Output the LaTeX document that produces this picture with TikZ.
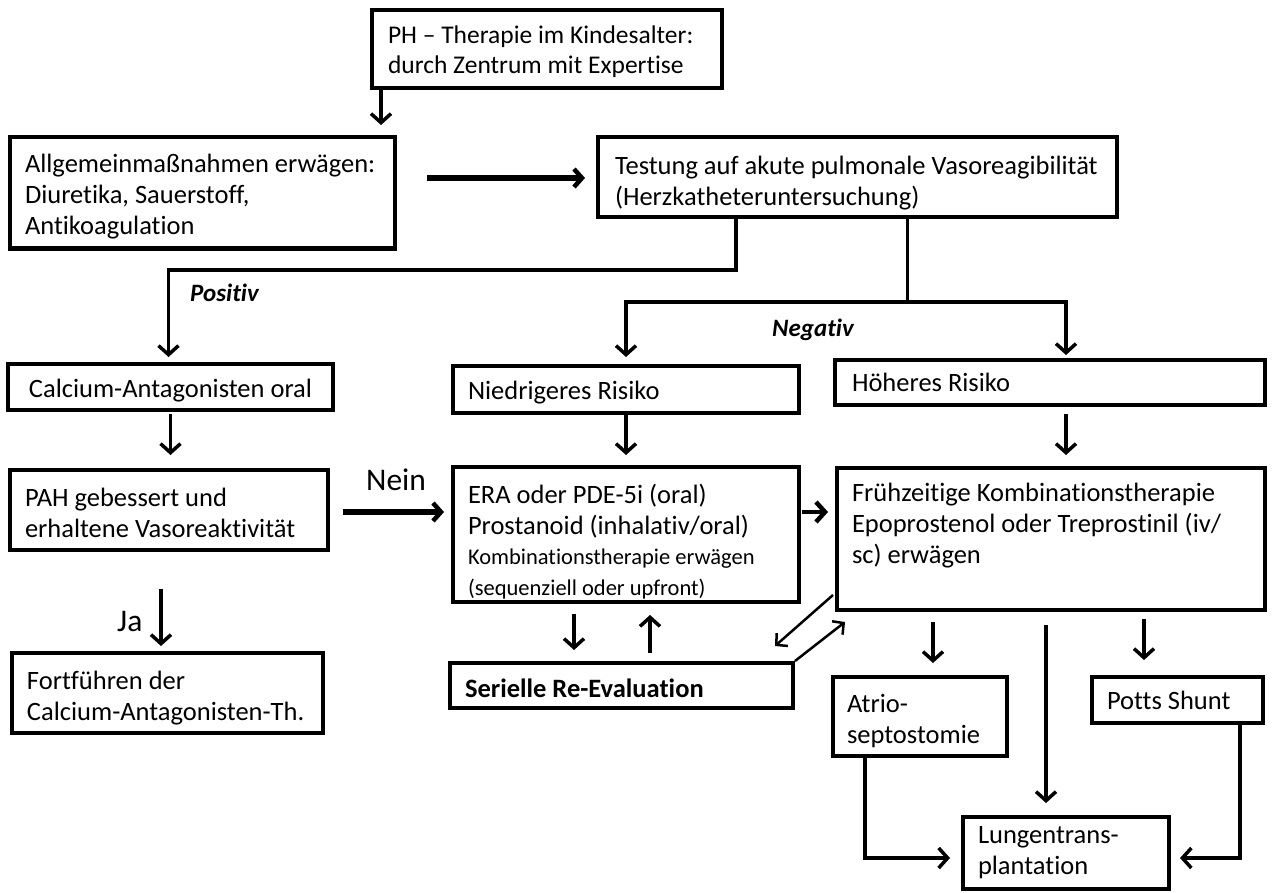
\documentclass[tikz,border=0pt]{standalone}
\usepackage{fontspec}
\setmainfont{Carlito}[Ligatures=NoCommon]
\usetikzlibrary{calc,arrows.meta}
\newcommand\dn[1]{\rule{0pt}{#1pt}}
\begin{document}
\begin{tikzpicture}[x=1pt,y=-1pt,
  box/.style={draw, line width=4pt, inner ysep=0pt, inner xsep=15pt, align=flush left,
    font=\fontsize{26.5}{31}\selectfont},
  lbl/.style={inner sep=0pt, anchor=base west},
  ln/.style={line width=3pt},
  arr/.style={line width=3.5pt, -{Straight Barb[length=9pt,width=20pt]}},
  tarr/.style={line width=6pt, -{Straight Barb[length=8pt,width=18pt,line width=4.5pt]}},
  darr/.style={line width=2.5pt, -{Straight Barb[length=8pt,width=17pt]}}
]
\useasboundingbox (0,0) rectangle (1273,893);

% boxes
\node[box, minimum width=350, minimum height=78, inner xsep=16pt, text width=318, font=\fontsize{25.5}{30}\selectfont] (top) at (547,49)
  {\dn{24}PH -- Therapie im Kindesalter:\\durch Zentrum mit Expertise};
\node[box, minimum width=385, minimum height=111, text width=355] (allg) at (202.5,193)
  {\dn{26}Allgemeinmaßnahmen erwägen:\\Diuretika, Sauerstoff,\\Antikoagulation};
\node[box, minimum width=519, minimum height=80, inner xsep=17pt, text width=485] (test) at (857.5,177)
  {\dn{30}Testung auf akute pulmonale Vasoreagibilität\\(Herzkatheteruntersuchung)};
\node[box, minimum width=325, minimum height=46, inner xsep=5pt, text width=315, align=flush center] (calc) at (170.5,387)
  {\dn{26}Calcium-Antagonisten oral};
\node[box, minimum width=346, minimum height=47, text width=316] (nied) at (626,389.5)
  {\dn{24}Niedrigeres Risiko};
\node[box, minimum width=430, minimum height=45, inner xsep=17pt, text width=396] (hoeh) at (1050,382.5)
  {Höheres Risiko};
\node[box, minimum width=318, minimum height=80, text width=288] (pah) at (169,510)
  {\dn{24}PAH gebessert und\\erhaltene Vasoreaktivität};
\node[box, minimum width=346, minimum height=135, text width=316] (era) at (626,534.5)
  {\dn{34}ERA oder PDE-5i (oral)\\Prostanoid (inhalativ/oral)\\[1pt]
   \fontsize{22.5}{29}\selectfont Kombinationstherapie erwägen\\(sequenziell oder upfront)};
\node[box, minimum width=428, minimum height=142, text width=398] (frueh) at (1051,539)
  {Frühzeitige Kombinationstherapie\\Epoprostenol oder Treprostinil (iv/\\sc) erwägen\\\mbox{}};
\node[box, minimum width=311, minimum height=80, text width=281] (fort) at (167.5,693)
  {\dn{28}Fortführen der\\Calcium-Antagonisten-Th.};
\node[box, minimum width=343, minimum height=45, text width=313, font=\fontsize{26.5}{31}\selectfont\bfseries] (seri) at (621.5,685.5)
  {\dn{24}Serielle Re-Evaluation};
\node[box, minimum width=174, minimum height=79, inner xsep=14pt, text width=146] (atrio) at (920,716.5)
  {\dn{28}Atrio-\\septostomie};
\node[box, minimum width=171, minimum height=46, text width=141] (potts) at (1177.5,700)
  {Potts Shunt};
\node[box, minimum width=206, minimum height=72, text width=176] (lungen) at (1066,853)
  {Lungentrans-\\plantation};

% labels
\node[lbl, font=\fontsize{25}{30}\selectfont\bfseries\itshape] (pos) at (190,301) {Positiv};
\node[lbl, font=\fontsize{25}{30}\selectfont\bfseries\itshape] (neg) at (772,336) {Negativ};
\node[lbl, font=\fontsize{31.5}{36}\selectfont] (nein) at (366,490) {Nein};
\node[lbl, font=\fontsize{31.5}{36}\selectfont] (ja) at (117,631) {Ja};

% connectors
\draw[arr] ($(top.south west)+(11,0)$) -- ($(top.south west)+(11,35)$);
\draw[tarr] ($(allg.east|-test.west)+(30,1)$) -- ($(test.west)+(-11,1)$);

\draw[arr] ($(test.south west)+(140,0)$) -- ++(0,51) -| ($(calc.north)+(-2,-5)$);
\coordinate (negc) at ($(test.south west)+(311,83)$);
\draw[ln] ($(test.south west)+(311,0)$) -- (negc);
\draw[arr] (negc) -| ($(nied.north)+(0,-7)$);
\draw[arr] (negc) -| ($(hoeh.north west)+(233,-3)$);

\draw[arr, shorten <=2pt, shorten >=13pt] (calc.south) -- (calc.south |- pah.north);
\draw[arr, shorten >=10pt] (nied.south) -- (era.north);
\draw[arr] ($(hoeh.south west)+(233,7)$) -- ($(frueh.north west)+(231,-11)$);

\draw[tarr] ($(pah.east)+(13,2)$) -- ($(pah.east -| era.west)+(-7,2)$);
\draw[arr, line width=4.5pt] ($(pah.east -| era.east)+(1,2)$) -- ($(pah.east -| frueh.west)+(-7,2)$);
\draw[arr] ($(pah.south west)+(153,37)$) -- ($(fort.north west)+(151,-5)$);

\draw[arr] ($(era.south west)+(123,10)$) -- ($(seri.north west)+(126,-11)$);
\draw[arr] ($(seri.north west)+(202,-8)$) -- ($(era.south west)+(199,11)$);
\draw[darr] ($(frueh.south west)+(-2,-17)$) -- ($(seri.north east)+(-20,-15)$);
\draw[darr] (seri.north east) -- ($(frueh.south west)+(10,10)$);

\draw[arr] ($(frueh.south west)+(98,10)$) -- ($(atrio.north west)+(102,-12)$);
\draw[arr] ($(frueh.south west)+(211,13)$) -- ($(lungen.north west)+(85,-12)$);
\draw[arr] ($(frueh.south west)+(309,7)$) -- ($(potts.north west)+(54,-15)$);
\draw[arr] ($(atrio.south west)+(34,0)$) |- ($(lungen.north west)+(-11,43)$);
\draw[arr] ($(potts.south west)+(150,0)$) |- ($(lungen.north east)+(9,43)$);
\end{tikzpicture}
\end{document}
